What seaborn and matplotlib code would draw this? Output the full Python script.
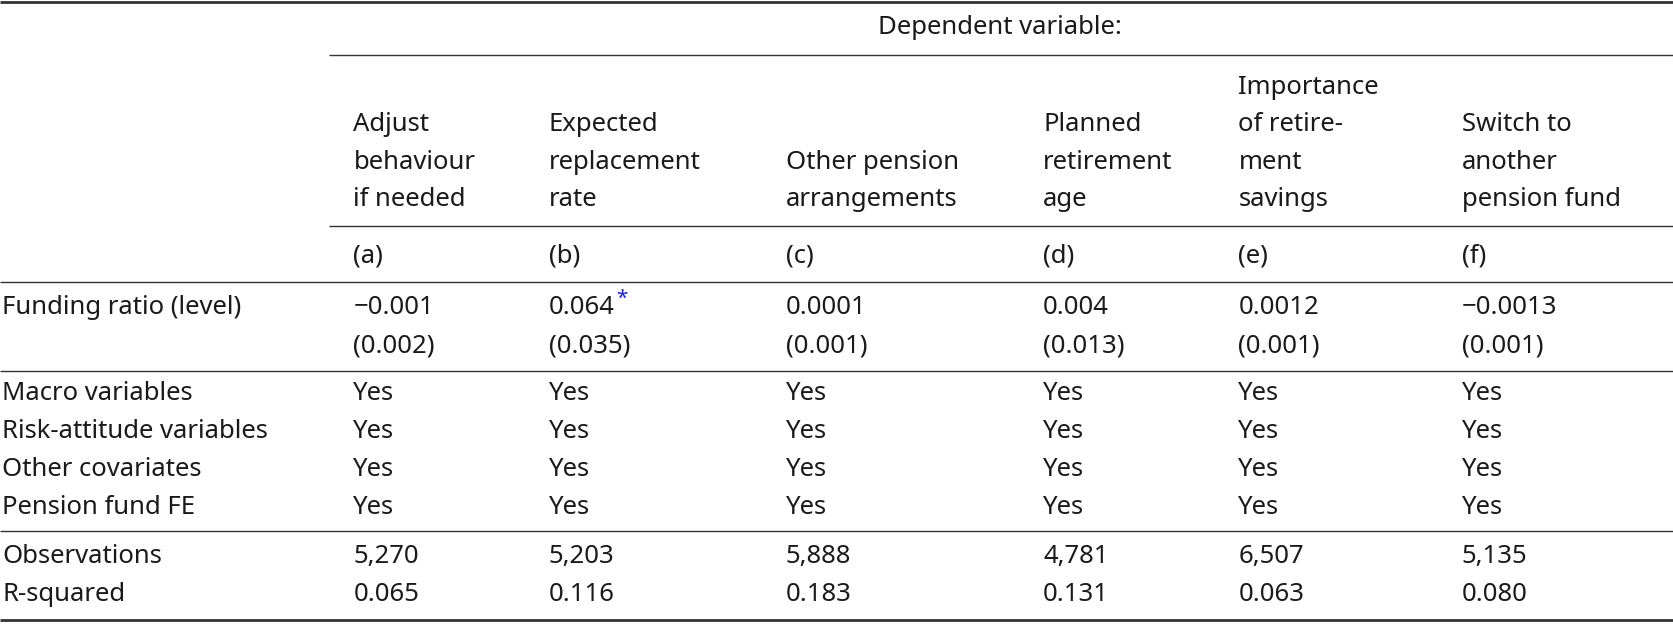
import matplotlib
matplotlib.use("Agg")
import matplotlib.pyplot as plt
import seaborn as sns

sns.set_theme(style="white")
plt.rcParams['font.family'] = ['Noto Sans', 'DejaVu Sans']

col_ids = ["(a)", "(b)", "(c)", "(d)", "(e)", "(f)"]
col_headers = [
    ["Adjust", "behaviour", "if needed"],
    ["Expected", "replacement", "rate"],
    ["Other pension", "arrangements"],
    ["Planned", "retirement", "age"],
    ["Importance", "of retire-", "ment", "savings"],
    ["Switch to", "another", "pension fund"],
]
coefs = ["\u22120.001", "0.064", "0.0001", "0.004", "0.0012", "\u22120.0013"]
stars = ["", "*", "", "", "", ""]
ses = ["(0.002)", "(0.035)", "(0.001)", "(0.013)", "(0.001)", "(0.001)"]
control_rows = ["Macro variables", "Risk-attitude variables", "Other covariates", "Pension fund FE"]
control_vals = ["Yes"] * 6
observations = ["5,270", "5,203", "5,888", "4,781", "6,507", "5,135"]
rsquared = ["0.065", "0.116", "0.183", "0.131", "0.063", "0.080"]

S = 1674 / 1568.0
fig = plt.figure(figsize=(16.74, 6.24), dpi=100)
ax = fig.add_axes([0, 0, 1, 1])
ax.set_xlim(0, 1568)
ax.set_ylim(585, 0)
ax.axis("off")

FS = 18.5
col_x = [331, 514, 736, 977, 1160, 1369]
tc = "#1a1a1a"

def txt(x, y, s, **kw):
    kw.setdefault("color", tc)
    return ax.text(x, y, s, fontsize=FS, va="center", ha="left", **kw)

def rule(y, x0, x1, lw):
    ax.plot([x0, x1], [y, y], color="#333333", lw=lw, solid_capstyle="butt")

rule(2, 0, 1568, 2.0)
ax.text(937, 26, "Dependent variable:", fontsize=FS, va="center", ha="center", color=tc)
rule(52, 308, 1568, 1.0)
line_y = [82, 117, 152, 187]
for x, hdr in zip(col_x, col_headers):
    ys = line_y[-len(hdr):]
    for y, s in zip(ys, hdr):
        txt(x, y, s)
rule(212, 308, 1568, 1.0)
for x, s in zip(col_x, col_ids):
    txt(x, 240, s)
rule(264, 0, 1568, 1.0)

txt(2, 288, "Funding ratio (level)")
fig.canvas.draw()
r = fig.canvas.get_renderer()
for x, c, st, se in zip(col_x, coefs, stars, ses):
    t = txt(x, 288, c)
    if st:
        bb = t.get_window_extent(renderer=r)
        x1 = ax.transData.inverted().transform((bb.x1, bb.y1))[0]
        ax.text(x1 + 1, 280, st, fontsize=FS * 0.8, color="#1a1aff", va="center", ha="left")
    txt(x, 324, se)
rule(348, 0, 1568, 1.0)

for y, lab in zip([369, 405, 440, 476], control_rows):
    txt(2, y, lab)
    for x, v in zip(col_x, control_vals):
        txt(x, y, v)
rule(498, 0, 1568, 1.0)

txt(2, 522, "Observations")
txt(2, 557, "R-squared")
for x, o, rq in zip(col_x, observations, rsquared):
    txt(x, 522, o)
    txt(x, 557, rq)
rule(581, 0, 1568, 2.0)

fig.savefig("out.png", dpi=100)
